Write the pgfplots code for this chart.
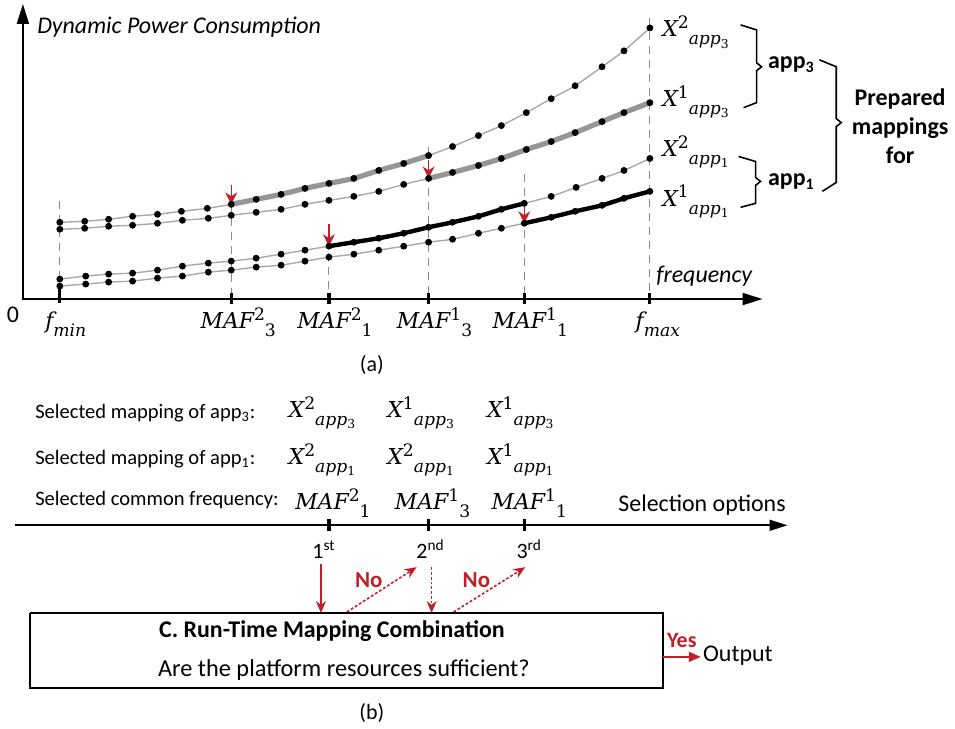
\documentclass[border=0pt]{standalone}
\usepackage{pgfplots}
\pgfplotsset{compat=1.18}
\usepackage{fontspec}
\setmainfont{Carlito}
\newfontfamily\mf{DejaVu Serif}
\usetikzlibrary{arrows.meta}
\definecolor{myred}{RGB}{192,32,40}
\definecolor{lgray}{RGB}{168,168,168}
\definecolor{tgray}{RGB}{150,150,150}
\definecolor{dgray}{RGB}{140,140,140}
\newcommand\fs{\fontsize{11}{13}\selectfont}
\newcommand\fm{\fontsize{11}{13}\selectfont}
\newcommand\msup[1]{\raisebox{0.72ex}{\fontsize{8.6}{9}\selectfont #1}}
\newcommand\msub[1]{\raisebox{-0.7ex}{\fontsize{8.6}{9}\selectfont #1}}
\newcommand\Xl[2]{\mbox{\mf\itshape X\msup{\upshape #1}\msub{app\raisebox{-0.4ex}{\fontsize{6.2}{7}\selectfont\upshape #2}}}}
\newcommand\MAF[2]{\mbox{\mf\itshape MAF\msup{\upshape #1}\msub{\upshape #2}}}
\newcommand\fl[1]{\mbox{\mf\itshape f\msub{#1}}}
\begin{document}
\begin{tikzpicture}
\begin{axis}[
  scale only axis, width=477.5pt, height=364.5pt,
  xmin=0, xmax=955, ymin=0, ymax=729, y dir=reverse,
  hide axis, clip=false,
]
\path (axis cs:0,0) rectangle (axis cs:955,729);
% ---------- chart (a) ----------
\pgfplotsset{dv/.style={dgray, line width=0.55pt, dash pattern=on 4pt off 3pt, forget plot}}
\addplot[dv] coordinates {(60,202)(60,295)};
\addplot[dv] coordinates {(232,205)(232,295)};
\addplot[dv] coordinates {(330,226)(330,295)};
\addplot[dv] coordinates {(430,147)(430,295)};
\addplot[dv] coordinates {(526,175)(526,295)};
\addplot[dv] coordinates {(652,18)(652,295)};
% thin curves
\pgfplotsset{tc/.style={lgray, line width=0.7pt, smooth, tension=0.3, no markers}}
\addplot[tc] coordinates {(60,223)(85,222)(109,220)(133,217)(158,215)(182,212)(208,209)(232,205)(257,200)(282,195)(306,189)(330,184)(355,179)(380,171)(405,164)(430,156)(454,147)(480,136)(503,126)(528,113)(553,99)(577,86)(604,67)(626,51)(652,28)};
\addplot[tc] coordinates {(60,230)(85,229)(109,227)(133,226)(158,224)(183,221)(209,219)(232,216)(257,213)(282,210)(306,205)(330,201)(355,197)(380,192)(405,185)(430,179)(454,173)(480,166)(503,159)(528,150)(553,142)(577,133)(604,122)(626,113)(652,103)};
\addplot[tc] coordinates {(60,280)(86,277)(109,275)(133,274)(158,271)(183,267)(209,264)(232,262)(257,259)(282,255)(306,251)(330,247)(355,243)(380,239)(405,234)(430,228)(454,223)(480,217)(503,210)(526,204)(553,197)(578,188)(604,179)(626,171)(652,159)};
\addplot[tc] coordinates {(60,287)(86,285)(109,283)(133,282)(158,279)(183,277)(209,273)(232,271)(257,268)(282,266)(306,262)(330,258)(355,255)(380,251)(405,247)(430,243)(454,240)(480,234)(503,229)(526,224)(553,218)(577,212)(604,206)(626,199)(652,192)};
% thick segments
\addplot[tgray, line width=2.6pt, smooth, tension=0.3, no markers] coordinates {(232,205)(257,200)(282,195)(306,189)(330,184)(355,179)(380,171)(405,164)(430,156)};
\addplot[tgray, line width=2.6pt, smooth, tension=0.3, no markers] coordinates {(430,179)(454,173)(480,166)(503,159)(528,150)(553,142)(577,133)(604,122)(626,113)(652,103)};
\addplot[black, line width=2.2pt, smooth, tension=0.3, no markers] coordinates {(330,247)(355,243)(380,239)(405,234)(430,228)(454,223)(480,217)(503,210)(526,204)};
\addplot[black, line width=2.2pt, smooth, tension=0.3, no markers] coordinates {(526,224)(553,218)(577,212)(604,206)(626,199)(652,192)};
% marks
\pgfplotsset{mk/.style={only marks, mark=*, mark size=1.5pt, black}}
\addplot[mk] coordinates {(60,223)(85,222)(109,220)(133,217)(158,215)(182,212)(208,209)(232,205)(257,200)(282,195)(306,189)(330,184)(355,179)(380,171)(405,164)(430,156)(454,147)(480,136)(503,126)(528,113)(553,99)(577,86)(604,67)(626,51)(652,28)};
\addplot[mk] coordinates {(60,230)(85,229)(109,227)(133,226)(158,224)(183,221)(209,219)(232,216)(257,213)(282,210)(306,205)(330,201)(355,197)(380,192)(405,185)(430,179)(454,173)(480,166)(503,159)(528,150)(553,142)(577,133)(604,122)(626,113)(652,103)};
\addplot[mk] coordinates {(60,280)(86,277)(109,275)(133,274)(158,271)(183,267)(209,264)(232,262)(257,259)(282,255)(306,251)(330,247)(355,243)(380,239)(405,234)(430,228)(454,223)(480,217)(503,210)(526,204)(553,197)(578,188)(604,179)(626,171)(652,159)};
\addplot[mk] coordinates {(60,287)(86,285)(109,283)(133,282)(158,279)(183,277)(209,273)(232,271)(257,268)(282,266)(306,262)(330,258)(355,255)(380,251)(405,247)(430,243)(454,240)(480,234)(503,229)(526,224)(553,218)(577,212)(604,206)(626,199)(652,192)};
% red arrows
\pgfplotsset{ra/.style={myred, line width=0.65pt, -{Stealth[length=6pt,width=6pt]}}}
\addplot[ra] coordinates {(232,186)(232,205)};
\addplot[ra] coordinates {(330,225)(330,247)};
\addplot[ra] coordinates {(430,161)(430,179)};
\addplot[ra] coordinates {(526,206)(526,224)};
% axes
\addplot[black, line width=1pt, {Triangle[length=10pt,width=6pt]}-{Triangle[length=10pt,width=6pt]}] coordinates {(23,4)(23,300)(765,300)};
% axis ticks
\addplot[black, line width=1.6pt] coordinates {(60,290)(60,304)};
\addplot[black, line width=1.6pt] coordinates {(232,294)(232,305)};
\addplot[black, line width=1.6pt] coordinates {(330,294)(330,305)};
\addplot[black, line width=1.6pt] coordinates {(430,294)(430,305)};
\addplot[black, line width=1.6pt] coordinates {(526,294)(526,305)};
\addplot[black, line width=1.6pt] coordinates {(652,294)(652,305)};
% texts (a)
\node[anchor=west, inner sep=0pt, font=\fontsize{12}{14}\selectfont\itshape] at (axis cs:37,27) {Dynamic Power Consumption};
\node[font=\fontsize{12}{14}\selectfont] at (axis cs:13,316) {0};
\node[anchor=base, font=\fm] at (axis cs:66,330) {\fl{min}};
\node[anchor=base, font=\fm] at (axis cs:239,330) {\MAF{2}{3}};
\node[anchor=base, font=\fm] at (axis cs:336,330) {\MAF{2}{1}};
\node[anchor=base, font=\fm] at (axis cs:436,330) {\MAF{1}{3}};
\node[anchor=base, font=\fm] at (axis cs:532,330) {\MAF{1}{1}};
\node[anchor=base, font=\fm] at (axis cs:660,330) {\fl{max}};
\node[anchor=base west, inner sep=0pt, font=\fontsize{12}{14}\selectfont\itshape] at (axis cs:658,283) {frequency};
\node[font=\fs] at (axis cs:373,366) {(a)};
\node[anchor=west, inner sep=1pt, font=\fm] at (axis cs:662,32) {\Xl{2}{3}};
\node[anchor=west, inner sep=1pt, font=\fm] at (axis cs:662,102) {\Xl{1}{3}};
\node[anchor=west, inner sep=1pt, font=\fm] at (axis cs:662,152) {\Xl{2}{1}};
\node[anchor=west, inner sep=1pt, font=\fm] at (axis cs:662,202) {\Xl{1}{1}};
% braces
\addplot[black, line width=0.8pt] coordinates {(743,25)(759,30)(759,63)(764,67)(759,71)(759,103)(746,108)};
\addplot[black, line width=0.8pt] coordinates {(741,157)(758,162)(758,178)(763,182)(758,186)(758,204)(743,208)};
\addplot[black, line width=0.8pt] coordinates {(822,60)(839,67)(839,119)(844,123)(839,127)(839,183)(825,192)};
\node[font=\fontsize{12}{14}\selectfont\bfseries] at (axis cs:794,65) {app\textsubscript{3}};
\node[font=\fontsize{12}{14}\selectfont\bfseries] at (axis cs:794,182) {app\textsubscript{1}};
\node[font=\fontsize{12}{14.5}\selectfont\bfseries, align=center] at (axis cs:903,127) {Prepared\\mappings\\for};
% ---------- part (b) ----------
\node[anchor=west, inner sep=0pt, font=\fontsize{10.3}{12}\selectfont] at (axis cs:35,414) {Selected mapping of app\textsubscript{3}:};
\node[anchor=west, inner sep=0pt, font=\fontsize{10.3}{12}\selectfont] at (axis cs:35,461) {Selected mapping of app\textsubscript{1}:};
\node[anchor=west, inner sep=0pt, font=\fontsize{10.3}{12}\selectfont] at (axis cs:35,502) {Selected common frequency:};
\node[font=\fm] at (axis cs:323,414) {\Xl{2}{3}};
\node[font=\fm] at (axis cs:422,414) {\Xl{1}{3}};
\node[font=\fm] at (axis cs:522,414) {\Xl{1}{3}};
\node[font=\fm] at (axis cs:323,461) {\Xl{2}{1}};
\node[font=\fm] at (axis cs:422,461) {\Xl{2}{1}};
\node[font=\fm] at (axis cs:522,461) {\Xl{1}{1}};
\node[anchor=base, font=\fm] at (axis cs:334,511) {\MAF{2}{1}};
\node[anchor=base, font=\fm] at (axis cs:434,511) {\MAF{1}{3}};
\node[anchor=base, font=\fm] at (axis cs:531,511) {\MAF{1}{1}};
\node[anchor=base west, inner sep=0pt, font=\fontsize{12}{14}\selectfont] at (axis cs:620,513) {Selection options};
\addplot[black, line width=0.8pt, -{Triangle[length=9pt,width=5.5pt]}] coordinates {(15,527)(790,527)};
\addplot[black, line width=1.6pt] coordinates {(330,521)(330,533)};
\addplot[black, line width=1.6pt] coordinates {(430,521)(430,533)};
\addplot[black, line width=1.6pt] coordinates {(526,521)(526,533)};
\node[font=\fs] at (axis cs:325,551) {1\textsuperscript{st}};
\node[font=\fs] at (axis cs:432,551) {2\textsuperscript{nd}};
\node[font=\fs] at (axis cs:531,551) {3\textsuperscript{rd}};
% red flow arrows
\addplot[myred, line width=0.75pt, -{Stealth[length=6pt,width=5pt]}] coordinates {(322,566)(322,615)};
\addplot[myred, line width=0.8pt, dash pattern=on 1.4pt off 1pt, -{Stealth[length=6pt,width=5pt]}] coordinates {(348,614)(418,569)};
\addplot[myred, line width=0.8pt, dash pattern=on 1.4pt off 1pt, -{Stealth[length=6pt,width=5pt]}] coordinates {(433,569)(433,615)};
\addplot[myred, line width=0.8pt, dash pattern=on 1.4pt off 1pt, -{Stealth[length=6pt,width=5pt]}] coordinates {(455,614)(527,569)};
\node[font=\fontsize{11.5}{13}\selectfont\bfseries, text=myred] at (axis cs:370,582) {No};
\node[font=\fontsize{11.5}{13}\selectfont\bfseries, text=myred] at (axis cs:478,582) {No};
% box
\addplot[black, line width=0.8pt] coordinates {(30,615)(665,615)(665,690)(30,690)(30,615)};
\node[font=\fontsize{12}{14}\selectfont\bfseries] at (axis cs:333,633) {C. Run-Time Mapping Combination};
\node[font=\fontsize{12.2}{14}\selectfont] at (axis cs:345,672) {Are the platform resources sufficient?};
\addplot[myred, line width=0.8pt, -{Triangle[length=6pt,width=5pt]}] coordinates {(665,659)(703,659)};
\node[font=\fs\bfseries, text=myred] at (axis cs:684,643) {Yes};
\node[anchor=west, font=\fontsize{12}{14}\selectfont, inner sep=1pt] at (axis cs:703,658) {Output};
\node[font=\fs] at (axis cs:373,715) {(b)};
\end{axis}
\end{tikzpicture}
\end{document}
